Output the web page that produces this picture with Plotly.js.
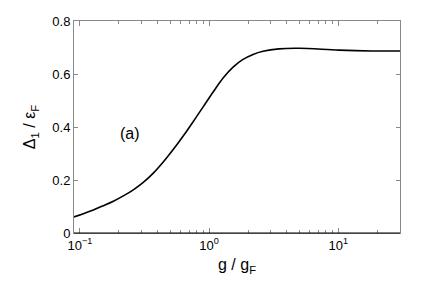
<!DOCTYPE html>
<html><head><meta charset="utf-8">
<script src="https://cdn.plot.ly/plotly-3.0.1.min.js"></script>
<style>html,body{margin:0;padding:0;background:#fff}#c{width:436px;height:281px}</style>
</head><body><div id="c"></div>
<script>
const gRatio = [0.0891, 0.1064, 0.1271, 0.1518, 0.1815, 0.2168, 0.2589, 0.3093, 0.3698, 0.4415, 0.5272, 0.630, 0.7524, 0.8989, 1.074, 1.283, 1.532, 1.830, 2.187, 2.612, 3.471, 4.955, 10.09, 18.14, 30];
const delta  = [0.060, 0.073, 0.087, 0.103, 0.120, 0.140, 0.163, 0.191, 0.226, 0.268, 0.315, 0.366, 0.420, 0.476, 0.532, 0.585, 0.626, 0.655, 0.674, 0.686, 0.695, 0.697, 0.690, 0.687, 0.687];
const xTickVals = [0.1, 1, 10];
const xTickText = ['10<sup>−1</sup>', '10<sup>0</sup>', '10<sup>1</sup>'];
const yTickVals = [0, 0.2, 0.4, 0.6, 0.8];
const yTickText = ['0', '0.2', '0.4', '0.6', '0.8'];

const font = {family: 'Liberation Sans, Arial, sans-serif', color: '#000'};
Plotly.newPlot('c', [{
  x: gRatio, y: delta, type: 'scatter', mode: 'lines',
  line: {color: '#000', width: 1.6, shape: 'spline', smoothing: 1},
  hoverinfo: 'skip'
}], {
  width: 436, height: 281,
  margin: {l: 74, r: 36, t: 21, b: 48},
  paper_bgcolor: '#fff', plot_bgcolor: '#fff',
  showlegend: false,
  font: Object.assign({size: 13}, font),
  xaxis: {
    type: 'log', range: [Math.log10(0.09), Math.log10(30)],
    tickvals: xTickVals, ticktext: xTickText,
    ticks: 'inside', ticklen: 5, tickcolor: '#888',
    minor: {ticks: 'inside', ticklen: 3, dtick: 'D1', tickcolor: '#888'},
    showline: true, linecolor: '#888', linewidth: 1, mirror: 'allticks',
    showgrid: false, zeroline: false,
    tickfont: Object.assign({size: 13}, font),
    title: {text: 'g / g<sub>F</sub>', font: Object.assign({size: 16}, font), standoff: 7}
  },
  yaxis: {
    range: [0, 0.8],
    tickvals: yTickVals, ticktext: yTickText,
    ticks: 'inside', ticklen: 4, tickcolor: '#888',
    showline: true, linecolor: '#888', linewidth: 1, mirror: 'allticks',
    showgrid: false, zeroline: false,
    tickfont: Object.assign({size: 13}, font),
    title: {text: 'Δ<sub>1</sub> / ε<sub>F</sub>', font: Object.assign({size: 16}, font), standoff: 12}
  },
  shapes: [{type: 'line', xref: 'paper', yref: 'paper', x0: 0, x1: 1, y0: 0, y1: 0, line: {color: '#000', width: 1.2}}],
  annotations: [{text: '(a)', xref: 'paper', yref: 'paper', x: 0.1365, y: 0.467, showarrow: false,
    font: Object.assign({size: 16}, font)}]
}, {displayModeBar: false, staticPlot: true});
</script></body></html>
